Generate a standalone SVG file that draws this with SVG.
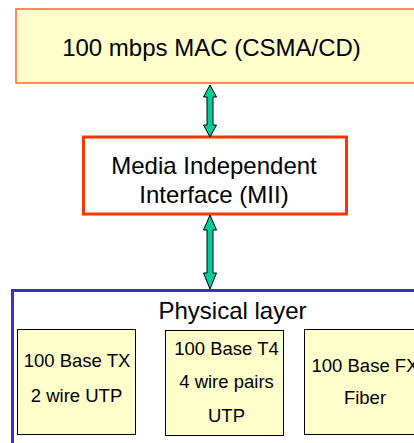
<svg xmlns="http://www.w3.org/2000/svg" width="414" height="443" viewBox="0 0 414 443">
<style>
text{font-family:"Liberation Sans",Arial,sans-serif;fill:#000;text-anchor:middle}
.big{font-size:24px}
.sm{font-size:18.5px}
.sub{fill:#FFFFCC;stroke:#000;stroke-width:1}
.arr{fill:#00CC99;stroke:#000;stroke-width:1;stroke-linejoin:miter}
</style>
<rect width="414" height="443" fill="#fff"/>
<g id="mac">
<rect x="16" y="9" width="410" height="74" fill="#FFFFCC" stroke="#FF6633" stroke-width="1.5"/>
<text class="big" x="211.5" y="56">100 mbps MAC (CSMA/CD)</text>
</g>
<g id="mii">
<rect x="83.5" y="137" width="263" height="77" fill="#fff" stroke="#FF3300" stroke-width="3"/>
<text class="big" x="214" y="174">Media Independent</text>
<text class="big" x="214" y="203">Interface (MII)</text>
</g>
<g id="phy">
<rect x="12.5" y="290.5" width="410" height="160" fill="#fff" stroke="#3333CC" stroke-width="3"/>
<text class="big" x="232.5" y="319">Physical layer</text>
</g>
<g id="tx">
<rect class="sub" x="17.5" y="329.5" width="118" height="105"/>
<text class="sm" x="77" y="367">100 Base TX</text>
<text class="sm" x="76.5" y="402">2 wire UTP</text>
</g>
<g id="t4">
<rect class="sub" x="165.5" y="330.5" width="118" height="105"/>
<text class="sm" x="226.5" y="355">100 Base T4</text>
<text class="sm" x="226.5" y="388">4 wire pairs</text>
<text class="sm" x="226.5" y="421.5">UTP</text>
</g>
<g id="fx">
<rect class="sub" x="304.5" y="329.5" width="118" height="105"/>
<text class="sm" x="365" y="371.5">100 Base FX</text>
<text class="sm" x="365" y="404">Fiber</text>
</g>
<g id="connectors">
<polygon class="arr" points="210,85 216.5,97 213,97 213,125 216.5,125 210,137 203.5,125 207,125 207,97 203.5,97"/>
<polygon class="arr" points="210,215 216.5,230 213,230 213,273 216.5,273 210,289 203.5,273 207,273 207,230 203.5,230"/>
</g>
</svg>
